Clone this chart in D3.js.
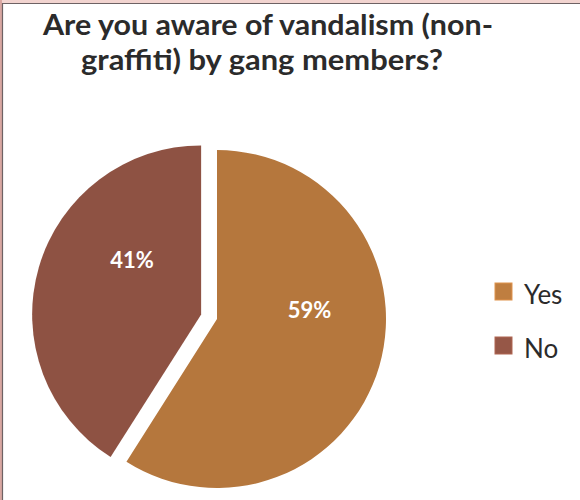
<!DOCTYPE html>
<html>
<head>
<meta charset="utf-8">
<script src="https://cdn.jsdelivr.net/npm/d3@7"></script>
<style>
  html, body { margin: 0; padding: 0; background: #fff; }
  svg { display: block; }
</style>
</head>
<body>
<div id="chart"></div>
<script>
// Survey answers
const categories = ["Yes", "No"];
const values = [59, 41];
const colors = ["#B5773D", "#8E5243"];
const titleLines = ["Are you aware of vandalism (non-", "graffiti) by gang members?"];

const W = 580, H = 500;
const svg = d3.select("#chart").append("svg")
  .attr("width", W).attr("height", H);

// outer frame: pink page edge with a grey rule
svg.append("rect").attr("x", 0).attr("y", 0).attr("width", W).attr("height", 3)
  .attr("fill", "#F2D4D0");
svg.append("rect").attr("x", 0).attr("y", 0).attr("width", 2).attr("height", H)
  .attr("fill", "#D9A7A2");
svg.append("line").attr("x1", 2.5).attr("y1", 3).attr("x2", 2.5).attr("y2", H)
  .attr("stroke", "#6E6264").attr("stroke-width", 1.2);
svg.append("line").attr("x1", 2).attr("y1", 3.5).attr("x2", W).attr("y2", 3.5)
  .attr("stroke", "#6E6264").attr("stroke-width", 1.2);

// title
const title = svg.append("g").attr("font-family", "Lato, 'Open Sans', sans-serif")
  .attr("font-weight", "bold").attr("font-size", 28).attr("fill", "#2B2B2B")
  .attr("text-anchor", "middle");
const titleWidths = [450, 362];
const titleX = [268, 262];
const titleY = [35, 70];
titleLines.forEach((t, i) => {
  title.append("text").attr("x", titleX[i]).attr("y", titleY[i])
    .attr("textLength", titleWidths[i]).attr("lengthAdjust", "spacingAndGlyphs")
    .text(t);
});

// pie
const cx = 217, cy = 319, r = 169, explode = 16.5;
const pie = d3.pie().sort(null).value(d => d.value);
const arcs = pie(categories.map((c, i) => ({ cat: c, value: values[i], color: colors[i] })));
const arc = d3.arc().innerRadius(0).outerRadius(r);

const g = svg.append("g").attr("transform", `translate(${cx},${cy})`);
const slices = g.selectAll("g.slice").data(arcs).join("g")
  .attr("class", "slice")
  .attr("transform", (d, i) => {
    if (i === 0) return null;
    const mid = (d.startAngle + d.endAngle) / 2;
    return `translate(${Math.sin(mid) * explode},${-Math.cos(mid) * explode})`;
  });

slices.append("path").attr("d", arc).attr("fill", d => d.data.color);

// percentage labels, pulled up toward the top of the pie
const labelShift = 22 * Math.PI / 180;
const labelR = [93, 88];
slices.append("text")
  .attr("transform", (d, i) => {
    const mid = (d.startAngle + d.endAngle) / 2;
    const a = mid - labelShift * Math.sign(Math.sin(mid));
    return `translate(${Math.sin(a) * labelR[i]},${-Math.cos(a) * labelR[i]})`;
  })
  .attr("text-anchor", "middle").attr("dy", "0.36em")
  .attr("font-family", "Lato, 'Open Sans', sans-serif").attr("font-weight", "bold")
  .attr("font-size", 22).attr("fill", "#FFFFFF")
  .text(d => d.data.value + "%");

// legend
const legend = svg.append("g").attr("transform", "translate(495,283)");
const rows = legend.selectAll("g").data(categories).join("g")
  .attr("transform", (d, i) => `translate(0,${i * 54})`);
rows.append("rect").attr("width", 17).attr("height", 17)
  .attr("fill", (d, i) => d3.color(colors[i]).brighter(0.15))
  .attr("stroke", (d, i) => d3.color(colors[i]).brighter(0.6)).attr("stroke-width", 1);
rows.append("text").attr("x", 29).attr("y", 21)
  .attr("font-family", "Lato, 'Open Sans', sans-serif").attr("font-size", 26)
  .attr("fill", "#2B2B2B").text(d => d);
</script>
</body>
</html>
